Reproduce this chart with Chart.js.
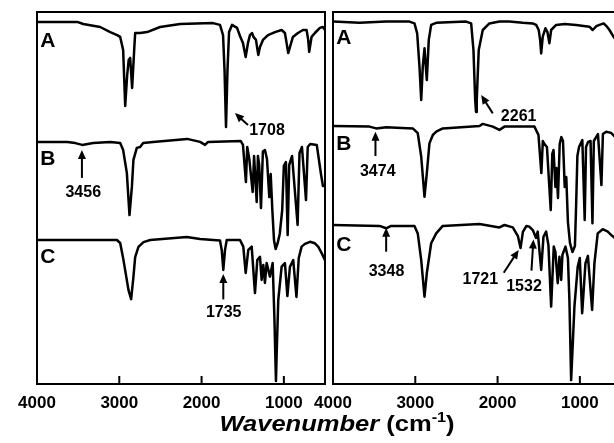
<!DOCTYPE html>
<html>
<head>
<meta charset="utf-8">
<script src="https://cdn.jsdelivr.net/npm/chart.js@4.4.1/dist/chart.umd.min.js"></script>
<style>
  html, body { margin: 0; padding: 0; background: #fff; overflow: hidden; }
  body { width: 614px; height: 443px; position: relative; }
  canvas { position: absolute; top: 0; }
  #leftChart { left: 0; }
  #rightChart { left: 296px; }
  .xtitle { position: absolute; left: 137px; width: 400px; top: 413px; text-align: center;
            font: bold 22px "Liberation Sans", Arial, sans-serif; line-height: 22px; color: #000;
            transform: scaleX(1.16); transform-origin: 200px 0; }
  .xtitle sup { font-size: 14px; line-height: 0; vertical-align: 9px; }
</style>
</head>
<body>
<canvas id="leftChart" width="330" height="443"></canvas>
<canvas id="rightChart" width="330" height="443"></canvas>
<div class="xtitle"><i>Wavenumber</i> (cm<sup>-1</sup>)</div>
<script>
// spectra: [wavenumber (cm-1), offset transmittance (a.u.)]
const leftA = [[4000,120.7],[3511,120.7],[3438,120],[3232,119],[3110,117.3],[3026,116.3],[2989,115.7],[2953,111.3],[2928,92.7],[2904,103],[2886,108],[2868,108.7],[2844,98.7],[2819,111.3],[2807,117],[2746,117],[2662,117.3],[2504,119],[2261,120],[1861,120.3],[1776,119.7],[1739,116.3],[1721,104.7],[1703,85.7],[1685,104.7],[1666,117.3],[1630,119.7],[1569,118.7],[1533,116],[1497,113.7],[1464,109],[1436,113.7],[1412,116.3],[1387,117],[1369,115.7],[1339,114.7],[1311,109.7],[1290,112.3],[1254,114.7],[1193,116.3],[1108,117.3],[1027,118],[987,117],[967,113.7],[947,110.3],[926,112.3],[890,115.7],[829,117],[768,118],[724,118],[704,114.7],[692,110.7],[663,115.7],[623,117],[562,118.7],[526,119],[500,118]];
const leftB = [[4000,80.7],[3632,80.7],[3535,80.3],[3450,79.7],[3317,80.3],[3110,80.7],[2989,80.3],[2953,78],[2908,70.3],[2876,56.3],[2847,65.7],[2828,74.7],[2787,78.7],[2746,79],[2710,80.3],[2589,80.7],[2176,81.7],[2018,80.7],[1958,79.7],[1921,80.7],[1524,81],[1497,79.7],[1461,67.3],[1445,79],[1420,75],[1379,64],[1362,76],[1330,60.7],[1315,76],[1300,73],[1278,58.7],[1255,77.5],[1230,78],[1205,75],[1177,62.3],[1160,70],[1140,58],[1120,48],[1100,45],[1075,47],[1050,50],[1020,58],[1000,72.7],[975,74],[954,49.7],[935,73],[900,76],[833,53],[810,77],[780,79],[731,61.3],[710,79],[680,80],[600,79.7],[549,70],[525,66],[500,66]];
const leftC = [[4000,48],[3029,48],[2989,47],[2949,41.3],[2888,31.3],[2856,28.3],[2828,35.7],[2807,42.3],[2767,45.7],[2706,47.3],[2625,48],[2180,49],[2018,48.3],[1776,47.8],[1755,44.7],[1736,38],[1715,44.7],[1694,48],[1533,48],[1493,45.8],[1464,37],[1432,44.7],[1391,45.8],[1351,30.3],[1323,41.3],[1290,42.4],[1270,34.7],[1250,39.7],[1230,33.7],[1209,40.3],[1169,35.8],[1136,40.3],[1114,21.3],[1104,9.7],[1096,1],[1086,11.3],[1068,28],[1027,39.1],[987,40.3],[957,29.3],[926,39.1],[886,41.3],[847,29],[819,42],[784,45.8],[744,46.7],[683,47.4],[623,46.9],[583,45.8],[542,43.7],[500,41.3]];

const rightA = [[4000,120.8],[3678,120.4],[3354,120.8],[3071,120.8],[3010,120.2],[2977,116.9],[2949,105.8],[2928,94.7],[2909,105.8],[2888,111.9],[2860,101.3],[2836,114.7],[2807,119.7],[2746,120.4],[2382,120.8],[2321,120.2],[2293,111.3],[2272,94.7],[2262,90.7],[2253,94.7],[2229,111.3],[2180,118],[2099,120.2],[1977,120.8],[1856,120.8],[1694,120.4],[1572,120.2],[1531,119.7],[1500,118],[1483,114.7],[1470,110.2],[1451,115.8],[1418,118.6],[1394,117.3],[1370,113.6],[1349,118],[1288,119.7],[1187,120],[1045,119.7],[884,119.1],[844,118],[799,119.3],[762,119.7],[710,120.2],[677,119.3],[640,118],[592,115.8],[519,113],[500,112]];
const rightB = [[4000,86],[3557,85.8],[3475,85.2],[3354,85.6],[3030,85.2],[2970,83.6],[2928,75.8],[2888,62.4],[2860,70.2],[2828,80.2],[2787,83],[2746,84.1],[2666,85.2],[2220,86],[2180,86.7],[2058,85.8],[1977,84.7],[1916,85.8],[1552,85.8],[1503,83],[1468,70.3],[1450,81],[1430,80],[1400,79],[1354,58],[1335,76.7],[1320,78],[1297,65.7],[1285,72],[1266,62],[1245,80],[1225,82.3],[1205,81],[1184,65.7],[1165,69],[1145,54],[1120,47],[1090,44],[1060,46],[1045,60],[1030,76],[1010,79],[970,81.3],[941,54.7],[925,79],[900,80.7],[870,81],[847,53.6],[830,81],[780,83.3],[738,66.3],[720,83.3],[680,84.1],[620,83.7],[560,82],[500,80]];
const rightC = [[4000,53],[3435,52.7],[3354,51.9],[3293,52.7],[3010,52.7],[2970,50.2],[2928,41.3],[2888,29.1],[2860,36.9],[2807,46.9],[2746,50.2],[2666,52.7],[2220,53.3],[1977,52.2],[1916,53],[1815,52.2],[1753,49.3],[1721,45.3],[1692,50.7],[1649,52.7],[1612,52.4],[1572,51.3],[1532,48.7],[1512,50.8],[1470,38],[1442,49.1],[1410,50.8],[1382,46.3],[1349,25.8],[1317,45.8],[1297,44],[1269,33.6],[1248,42.4],[1227,34.7],[1212,43],[1175,45.8],[1145,42],[1127,28],[1106,1.3],[1084,14.7],[1066,25.8],[1026,39.1],[1001,42],[972,23.6],[932,40.2],[902,42.7],[851,24.7],[823,40.2],[783,50.2],[722,51.6],[661,50.8],[620,49.7],[592,49.1],[519,47.3],[500,47]];

const xTicks = [4000, 3000, 2000, 1000];

// trace letters: [text, y value]
const leftLetters = [["A", 114.1], ["B", 74.8], ["C", 42.2]];
const rightLetters = [["A", 115.2], ["B", 80], ["C", 46.3]];

// peak labels: text position, arrow tail and arrow tip as [wavenumber, y value]
const leftNotes = [
  { text: "1708", at: [1205, 84.5], tail: [1436, 86.3], tip: [1594, 90.3] },
  { text: "3456", at: [3438, 63.7], tail: [3454, 68.7], tip: [3454, 78] },
  { text: "1735", at: [1731, 23.8], tail: [1736, 28.2], tip: [1736, 36.7] }
];
const rightNotes = [
  { text: "2261", at: [1744, 89.1], tail: [2058, 90.2], tip: [2199, 96.3] },
  { text: "3474", at: [3456, 70.8], tail: [3484, 76], tip: [3484, 84.1] },
  { text: "3348", at: [3350, 37.4], tail: [3354, 44.1], tip: [3354, 52.1] },
  { text: "1721", at: [2210, 34.8], tail: [1925, 37.1], tip: [1743, 44.7] },
  { text: "1532", at: [1679, 32.4], tail: [1588, 37.8], tip: [1564, 48.2] }
];

const FONT = '"Liberation Sans", Arial, sans-serif';

function makeDecor(letters, notes) {
  return {
    id: 'decor',
    afterDatasetsDraw(chart) {
      const { ctx, chartArea: a, scales: { x, y } } = chart;
      ctx.save();
      ctx.strokeStyle = '#000';
      ctx.fillStyle = '#000';
      ctx.lineWidth = 2;
      ctx.strokeRect(a.left, a.top, a.right - a.left, a.bottom - a.top);
      // ticks point inward from the bottom frame
      xTicks.forEach(t => {
        const px = x.getPixelForValue(t);
        ctx.beginPath();
        ctx.moveTo(px, a.bottom);
        ctx.lineTo(px, a.bottom - 8);
        ctx.stroke();
      });

      ctx.font = 'bold 21px ' + FONT;
      ctx.textBaseline = 'middle';
      ctx.textAlign = 'left';
      letters.forEach(([t, v]) => {
        ctx.fillText(t, x.getPixelForValue(3960), y.getPixelForValue(v));
      });

      ctx.font = 'bold 16px ' + FONT;
      ctx.textAlign = 'center';
      notes.forEach(n => {
        const x0 = x.getPixelForValue(n.tail[0]), y0 = y.getPixelForValue(n.tail[1]);
        const x1 = x.getPixelForValue(n.tip[0]), y1 = y.getPixelForValue(n.tip[1]);
        const ang = Math.atan2(y1 - y0, x1 - x0);
        const c = Math.cos(ang), s = Math.sin(ang);
        ctx.beginPath();
        ctx.moveTo(x0, y0);
        ctx.lineTo(x1 - 6 * c, y1 - 6 * s);
        ctx.stroke();
        ctx.beginPath();
        ctx.moveTo(x1, y1);
        ctx.lineTo(x1 - 9 * c + 4 * s, y1 - 9 * s - 4 * c);
        ctx.lineTo(x1 - 9 * c - 4 * s, y1 - 9 * s + 4 * c);
        ctx.closePath();
        ctx.fill();
        ctx.fillText(n.text, x.getPixelForValue(n.at[0]), y.getPixelForValue(n.at[1]));
      });
      ctx.restore();
    }
  };
}

function makeChart(id, series, letters, notes) {
  return new Chart(document.getElementById(id), {
    type: 'line',
    data: {
      datasets: series.map(s => ({
        data: s.map(p => ({ x: p[0], y: p[1] })),
        borderColor: '#000',
        borderWidth: 2.5,
        borderJoinStyle: 'round',
        pointRadius: 0,
        tension: 0,
        fill: false
      }))
    },
    options: {
      responsive: false,
      animation: false,
      events: [],
      layout: { padding: { left: 37, right: 5, top: 12, bottom: 0 } },
      plugins: { legend: { display: false }, tooltip: { enabled: false } },
      scales: {
        x: {
          type: 'linear',
          min: 500,
          max: 4000,
          reverse: true,
          afterBuildTicks: s => { s.ticks = xTicks.map(v => ({ value: v })); },
          afterFit: s => { s.height = 59; },
          grid: { display: false, drawTicks: false },
          border: { display: false },
          ticks: {
            color: '#000',
            padding: 9,
            maxRotation: 0,
            autoSkip: false,
            font: { family: FONT, size: 17, weight: 'bold' },
            callback: v => String(v)
          }
        },
        y: { display: false, min: 0, max: 124 }
      }
    },
    plugins: [makeDecor(letters, notes)]
  });
}

makeChart('leftChart', [leftA, leftB, leftC], leftLetters, leftNotes);
makeChart('rightChart', [rightA, rightB, rightC], rightLetters, rightNotes);
</script>
</body>
</html>
